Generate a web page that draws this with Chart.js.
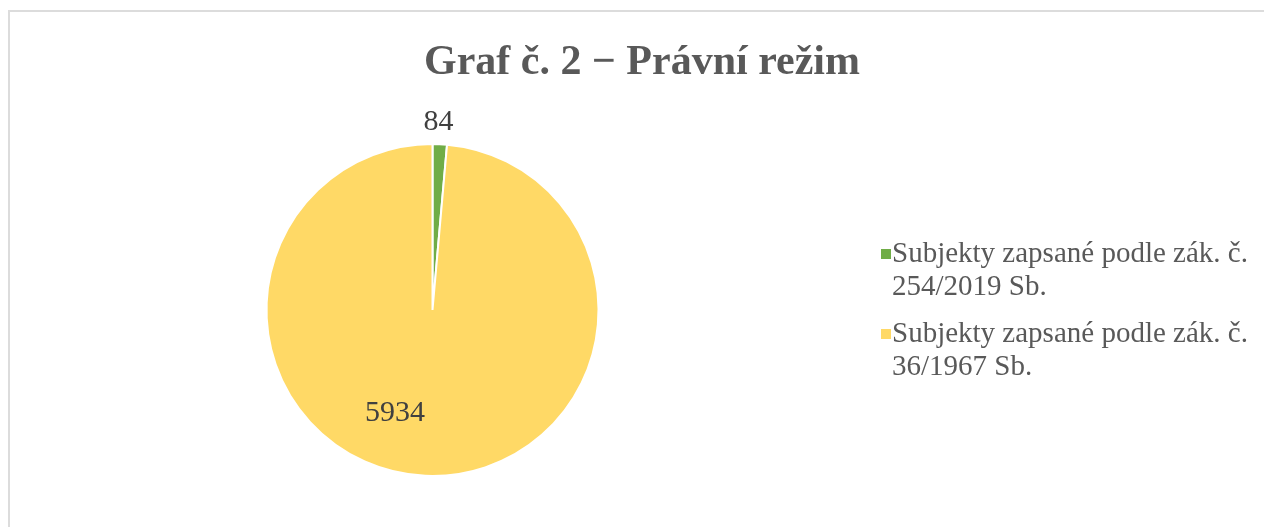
<!DOCTYPE html>
<html>
<head>
<meta charset="utf-8">
<script src="https://cdn.jsdelivr.net/npm/chart.js@4.4.1/dist/chart.umd.min.js"></script>
<style>
  html, body { margin: 0; padding: 0; background: #fff; overflow: hidden; }
  #box {
    position: absolute; left: 8px; top: 10px;
    width: 1264px; height: 527px;
    border: 2px solid #dcdcdc;
  }
</style>
</head>
<body>
<div id="box"><canvas id="pieChart"></canvas></div>
<script>
const chartTitle = 'Graf č. 2 − Právní režim';
const regimeLabels = [
  ['Subjekty zapsané podle zák. č.', '254/2019 Sb.'],
  ['Subjekty zapsané podle zák. č.', '36/1967 Sb.']
];
const regimeCounts = [84, 5934];
const sliceColors = ['#70AD47', '#FFD966'];

// value labels: one outside above the thin slice, one inside the big slice
const labelPlace = [
  { inside: false, gap: 22, shift: -0.7 },
  { inside: true, frac: 0.66, shift: 17.5 }
];

const valueLabels = {
  id: 'valueLabels',
  afterDatasetsDraw(chart) {
    const ctx = chart.ctx;
    const meta = chart.getDatasetMeta(0);
    ctx.save();
    ctx.font = '30px "Liberation Serif", "Times New Roman", serif';
    ctx.fillStyle = '#404040';
    ctx.textAlign = 'center';
    ctx.textBaseline = 'middle';
    meta.data.forEach((arc, i) => {
      const p = arc.getProps(['x', 'y', 'startAngle', 'endAngle', 'outerRadius'], true);
      const pl = labelPlace[i];
      const a = (p.startAngle + p.endAngle) / 2 + pl.shift * Math.PI / 180;
      const r = pl.inside ? p.outerRadius * pl.frac : p.outerRadius + pl.gap;
      ctx.fillText(String(chart.data.datasets[0].data[i]), p.x + Math.cos(a) * r, p.y + Math.sin(a) * r);
    });
    ctx.restore();
  }
};

// title across the whole chart box (the pie area is padded, so the built-in title would get squeezed)
const wideTitle = {
  id: 'wideTitle',
  afterDraw(chart, args, opts) {
    const ctx = chart.ctx;
    ctx.save();
    ctx.font = 'bold 42px "Liberation Serif", "Times New Roman", serif';
    ctx.fillStyle = '#595959';
    ctx.textAlign = 'center';
    ctx.textBaseline = 'alphabetic';
    ctx.fillText(opts.text, chart.width / 2, opts.baseline);
    ctx.restore();
  }
};

const sideLegend = {
  id: 'sideLegend',
  afterDraw(chart, args, opts) {
    const ctx = chart.ctx;
    const colors = chart.data.datasets[0].backgroundColor;
    ctx.save();
    ctx.font = opts.size + 'px "Liberation Serif", "Times New Roman", serif';
    ctx.textBaseline = 'alphabetic';
    ctx.textAlign = 'left';
    let y = opts.top;
    chart.data.labels.forEach((lines, i) => {
      ctx.fillStyle = colors[i];
      ctx.fillRect(opts.x, y - 13, 10, 10);
      ctx.fillStyle = '#595959';
      lines.forEach((ln, k) => ctx.fillText(ln, opts.x + 11, y + k * opts.lineH));
      y += opts.itemH;
    });
    ctx.restore();
  }
};

let pieChart = new Chart(document.getElementById('pieChart').getContext('2d'), {
  type: 'pie',
  data: {
    labels: regimeLabels,
    datasets: [{
      data: regimeCounts,
      backgroundColor: sliceColors,
      borderColor: '#ffffff',
      borderWidth: 2
    }]
  },
  options: {
    responsive: true,
    maintainAspectRatio: false,
    animation: false,
    layout: { padding: { left: 255.5, right: 674.5, top: 131, bottom: 62 } },
    plugins: {
      legend: { display: false },
      tooltip: { enabled: false },
      title: { display: false },
      wideTitle: { text: chartTitle, baseline: 61.5 },
      sideLegend: { x: 871, top: 250, size: 29, lineH: 33, itemH: 80 }
    }
  },
  plugins: [valueLabels, wideTitle, sideLegend]
});
</script>
</body>
</html>
